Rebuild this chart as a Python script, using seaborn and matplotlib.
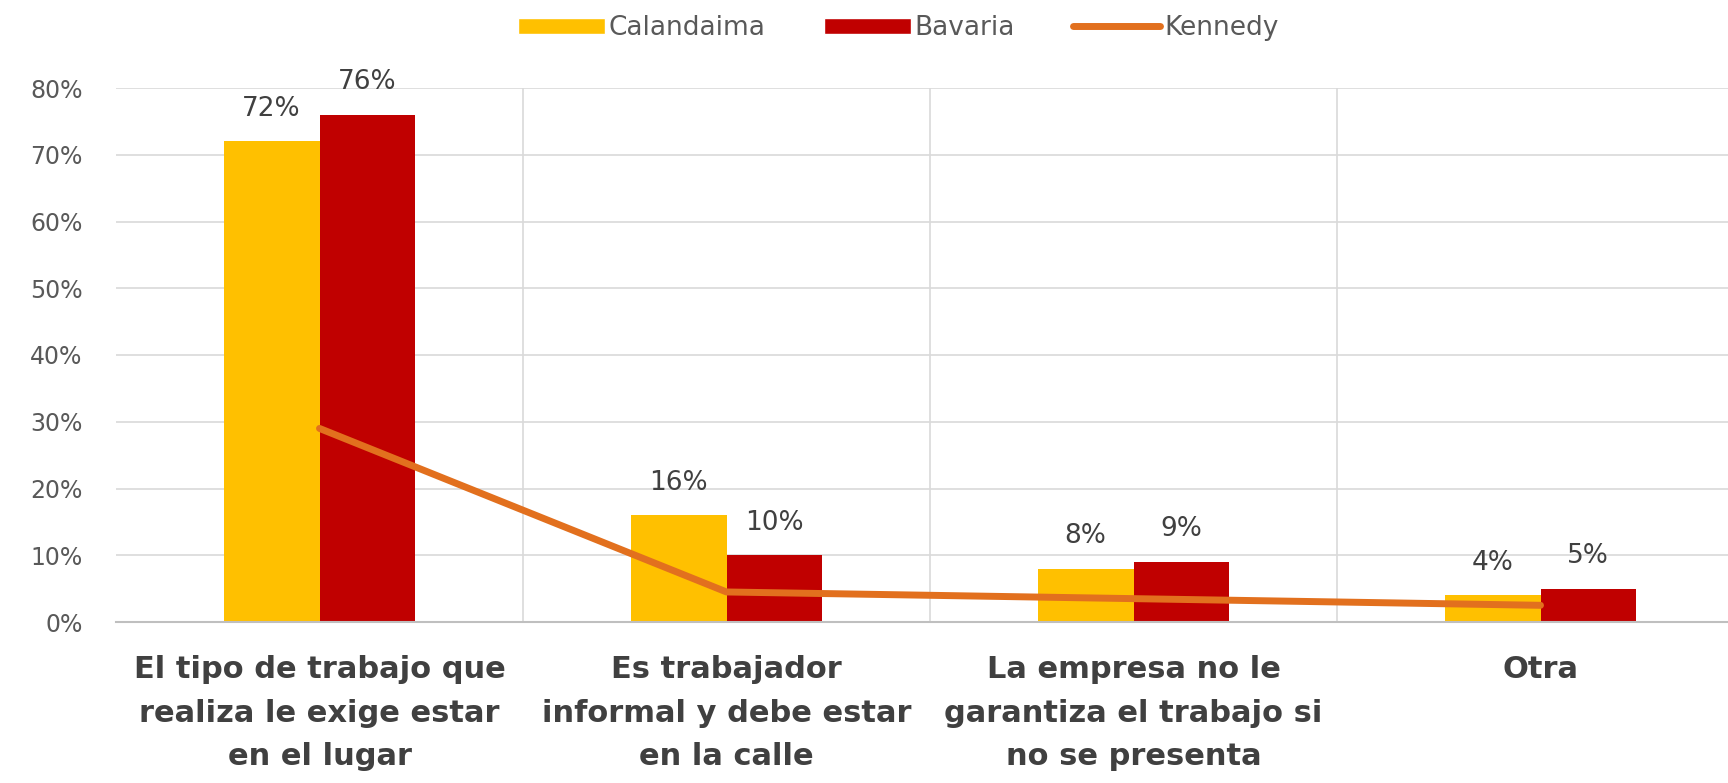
"""
Razones para salir de casa - barras Calandaima / Bavaria + linea Kennedy
"""

import pandas as pd
import matplotlib.pyplot as plt
import seaborn as sns
import numpy as np
from matplotlib.ticker import PercentFormatter
from matplotlib.patches import Patch
from matplotlib.lines import Line2D

sns.set_style("white")
plt.rcParams['font.family'] = ['DejaVu Sans']

# Data
categories = [
    'El tipo de trabajo que\nrealiza le exige estar\nen el lugar',
    'Es trabajador\ninformal y debe estar\nen la calle',
    'La empresa no le\ngarantiza el trabajo si\nno se presenta',
    'Otra',
]
calandaima = [0.72, 0.16, 0.08, 0.04]
bavaria = [0.76, 0.10, 0.09, 0.05]
kennedy = [0.29, 0.045, 0.035, 0.025]
y_ticks = [0, 0.1, 0.2, 0.3, 0.4, 0.5, 0.6, 0.7, 0.8]

series_names = ['Calandaima', 'Bavaria']
colors = {'Calandaima': '#FFC000', 'Bavaria': '#C00000'}
line_color = '#E2701E'
text_grey = '#595959'
label_grey = '#404040'

df = pd.DataFrame({
    'Categoria': categories * 2,
    'Serie': ['Calandaima'] * 4 + ['Bavaria'] * 4,
    'Valor': calandaima + bavaria,
})

fig = plt.figure(figsize=(17.28, 7.83), dpi=100)
ax = fig.add_axes([116 / 1728, 161 / 783, 1628 / 1728, 534 / 783])

sns.barplot(data=df, x='Categoria', y='Valor', hue='Serie', hue_order=series_names,
            order=categories, palette=colors, width=0.47, gap=0, saturation=1,
            edgecolor='none', linewidth=0, legend=False, ax=ax)

sns.lineplot(x=np.arange(len(categories)), y=kennedy, color=line_color,
             linewidth=5, sort=False, legend=False, ax=ax, zorder=5)

# Data labels
for container in ax.containers:
    ax.bar_label(container, labels=[f'{v * 100:.0f}%' for v in container.datavalues],
                 padding=14, fontsize=19, color=label_grey)

ax.set_xlim(-0.5, 3.5)
ax.set_ylim(0, 0.8)
ax.set_yticks(y_ticks)
ax.yaxis.set_major_formatter(PercentFormatter(1.0, decimals=0))
ax.tick_params(axis='y', length=0, pad=24, labelsize=17, labelcolor=text_grey)
ax.tick_params(axis='x', length=0, pad=24)
ax.set_xticks(range(len(categories)))
ax.set_xticklabels(categories, fontsize=22, fontweight='bold', color=label_grey,
                   linespacing=1.62)
ax.set_xlabel('')
ax.set_ylabel('')

# Gridlines: horizontal at ticks, vertical between categories
ax.grid(axis='y', color='#D9D9D9', linewidth=1.2)
for b in np.arange(0.5, len(categories) - 0.5, 1):
    ax.axvline(b, color='#D9D9D9', linewidth=1.2, zorder=0)
ax.set_axisbelow(True)

sns.despine(ax=ax, left=True, top=True, right=True)
ax.spines['bottom'].set_color('#BFBFBF')
ax.spines['bottom'].set_linewidth(1.5)

handles = [Patch(facecolor=colors['Calandaima']),
           Patch(facecolor=colors['Bavaria']),
           Line2D([0], [0], color=line_color, linewidth=5)]
fig.legend(handles, ['Calandaima', 'Bavaria', 'Kennedy'], loc='center',
           bbox_to_anchor=(898 / 1728, 1 - 28 / 783), ncol=3, frameon=False,
           fontsize=19, labelcolor=text_grey, handlelength=3.3, handleheight=0.55,
           handletextpad=0.15, columnspacing=2.2)

plt.savefig('out.png', dpi=100)
